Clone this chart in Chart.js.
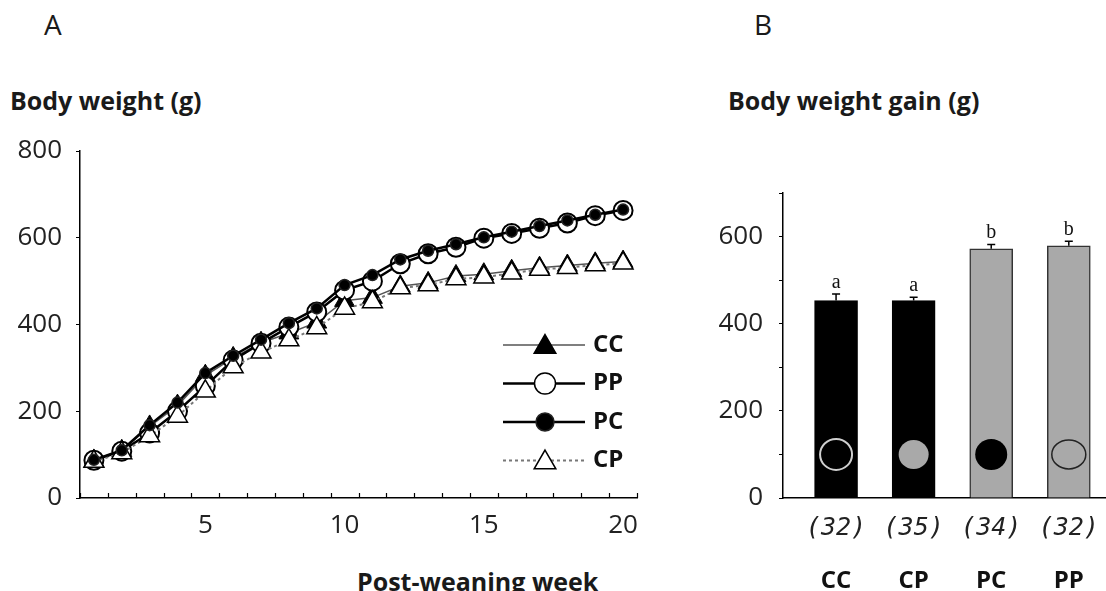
<!DOCTYPE html>
<html>
<head>
<meta charset="utf-8">
<script src="https://cdn.jsdelivr.net/npm/chart.js@4.4.1/dist/chart.umd.min.js"></script>
<style>
html,body{margin:0;padding:0;background:#fff;}
body{width:1106px;height:591px;overflow:hidden;position:relative;font-family:'Open Sans',sans-serif;color:#1a1a1a;}
.t{position:absolute;white-space:nowrap;line-height:1;}
canvas{position:absolute;top:0;}
</style>
</head>
<body>
<div class="t" style="left:44px;top:10px;font-size:28px;">A</div>
<div class="t" style="left:754px;top:10px;font-size:28px;">B</div>
<div class="t" style="left:10px;top:88px;font-size:25px;font-weight:700;">Body weight (g)</div>
<div class="t" style="left:728px;top:88px;font-size:25px;font-weight:700;">Body weight gain (g)</div>
<div class="t" style="left:357px;top:569px;font-size:25px;font-weight:700;">Post-weaning week</div>
<canvas id="c1" width="700" height="591" style="left:0"></canvas>
<canvas id="c2" width="430" height="591" style="left:690px"></canvas>
<script>
// ---- Panel A data ----
const weeks = ['1','2','3','4','5','6','7','8','9','10','11','12','13','14','15','16','17','18','19','20'];
const weekTickLabels = ['5','10','15','20'];
const ccWeight = [86,109,165,213,282,323,358,380,405,455,462,488,496,512,516,524,531,536,541,545];
const ppWeight = [87,108,150,200,258,318,357,394,429,479,500,540,563,578,599,610,622,634,651,663];
const pcWeight = [88,110,168,220,288,328,365,403,437,491,514,550,570,585,601,614,627,640,653,665];
const cpWeight = [84,104,143,188,246,302,336,364,392,437,452,484,491,505,509,518,527,531,537,541];
const legendOrder = ['CC','PP','PC','CP'];

// ---- Panel B data ----
const groups = ['CC','CP','PC','PP'];
const groupN = ['(32)','(35)','(34)','(32)'];
const gain = [453,453,572,579];
const gainErr = [15,8,10,10];
const sigLetters = ['a','a','b','b'];

function drawMarker(ctx, style, r, x, y, fill, stroke, lw){
  ctx.save();
  ctx.beginPath();
  if(style==='triangle'){
    let rad=0;
    ctx.moveTo(x+Math.sin(rad)*r, y-Math.cos(rad)*r);
    rad+=Math.PI*2/3;
    ctx.lineTo(x+Math.sin(rad)*r, y-Math.cos(rad)*r);
    rad+=Math.PI*2/3;
    ctx.lineTo(x+Math.sin(rad)*r, y-Math.cos(rad)*r);
    ctx.closePath();
  } else {
    ctx.arc(x,y,r,0,Math.PI*2);
  }
  ctx.fillStyle=fill; ctx.fill();
  ctx.lineWidth=lw; ctx.strokeStyle=stroke; ctx.stroke();
  ctx.restore();
}

const legendSizes = {CC:12.5, PP:10.5, PC:9, CP:12.5};
const insideLegend = {
  id:'insideLegend',
  afterDatasetsDraw(chart){
    const {ctx, chartArea} = chart;
    const x0 = chartArea.right-134, x1 = chartArea.right-52, xm = chartArea.right-92, xt = chartArea.right-44;
    legendOrder.forEach((name,k)=>{
      const ds = chart.data.datasets.find(d=>d.label===name);
      const y = chartArea.bottom-153+k*38.5;
      ctx.save();
      ctx.beginPath();
      ctx.strokeStyle=ds.borderColor; ctx.lineWidth=ds.borderWidth;
      ctx.setLineDash(ds.borderDash||[]);
      ctx.moveTo(x0,y); ctx.lineTo(x1,y); ctx.stroke();
      ctx.restore();
      drawMarker(ctx, ds.pointStyle, legendSizes[name], xm, y + (ds.pointStyle==='triangle'?2:0), ds.pointBackgroundColor, ds.pointBorderColor, 1.5);
      ctx.save();
      ctx.fillStyle='#111'; ctx.font='700 24px "Open Sans"';
      ctx.textBaseline='middle'; ctx.textAlign='left';
      ctx.fillText(name, xt, y);
      ctx.restore();
    });
  }
};

// tick marks on the category (week) axis pointing into the plot, at category boundaries
const innerTicks = {
  id:'innerTicks',
  afterDraw(chart){
    const {ctx} = chart;
    const xs = chart.scales.x;
    ctx.save();
    ctx.strokeStyle='#000'; ctx.lineWidth=1.2;
    ctx.beginPath();
    for(let i=0;i<=weeks.length;i++){
      const px = Math.round(xs.getPixelForValue(i-0.5))+0.5;
      ctx.moveTo(px, xs.top); ctx.lineTo(px, xs.top-5);
    }
    ctx.stroke();
    ctx.restore();
  }
};

new Chart(document.getElementById('c1'), {
  type:'line',
  data:{labels:weeks, datasets:[
    {label:'CC', data:ccWeight, borderColor:'#555', borderWidth:1.5, pointStyle:'triangle', pointRadius:11.5, pointBackgroundColor:'#000', pointBorderColor:'#000', pointBorderWidth:1, order:3},
    {label:'PP', data:ppWeight, borderColor:'#000', borderWidth:2.5, pointStyle:'circle', pointRadius:9.5, pointBackgroundColor:'#fff', pointBorderColor:'#000', pointBorderWidth:2, order:2},
    {label:'PC', data:pcWeight, borderColor:'#000', borderWidth:2.5, pointStyle:'circle', pointRadius:5.5, pointBackgroundColor:'#000', pointBorderColor:'#222', pointBorderWidth:1.5, order:0},
    {label:'CP', data:cpWeight, borderColor:'#777', borderWidth:2, borderDash:[3,3], pointStyle:'triangle', pointRadius:11.5, pointBackgroundColor:'#fff', pointBorderColor:'#000', pointBorderWidth:1.5, order:1}
  ]},
  options:{
    responsive:false, animation:false, events:[],
    layout:{padding:{top:151,right:63,left:0,bottom:0}},
    plugins:{legend:{display:false}, tooltip:{enabled:false}},
    scales:{
      x:{type:'category', offset:true,
         grid:{offset:true, drawOnChartArea:false, drawTicks:false, color:'#000'},
         border:{color:'#000', width:1.5},
         ticks:{autoSkip:false, maxRotation:0, padding:12, color:'#222', font:{family:'Open Sans', size:26},
                callback:(v,i)=> weekTickLabels.includes(weeks[i]) ? weeks[i] : ''},
         afterFit:s=>{s.height=93;}},
      y:{min:0, max:800,
         ticks:{stepSize:200, padding:14, color:'#222', font:{family:'Open Sans', size:26}},
         grid:{drawOnChartArea:false, color:'#000', tickLength:4},
         border:{color:'#000', width:1.5},
         afterFit:s=>{s.width=80;}}
    }
  },
  plugins:[insideLegend, innerTicks]
});

const barDecor = {
  id:'barDecor',
  afterDatasetsDraw(chart){
    const {ctx} = chart;
    const ys = chart.scales.y;
    const meta = chart.getDatasetMeta(0);
    const markerLevel = 100;
    const icons = [
      {fill:null, stroke:'#cfcfcf', lw:2, rx:16, ry:15.5},
      {fill:'#a9a9a9', stroke:null, lw:0, rx:15, ry:14.5},
      {fill:'#000', stroke:null, lw:0, rx:16, ry:15.5},
      {fill:null, stroke:'#222', lw:1.5, rx:17, ry:14.5}
    ];
    meta.data.forEach((bar,i)=>{
      const top = ys.getPixelForValue(gain[i]+gainErr[i]);
      ctx.save();
      ctx.strokeStyle='#000'; ctx.lineWidth=1.5;
      ctx.beginPath();
      ctx.moveTo(bar.x, bar.y); ctx.lineTo(bar.x, top);
      ctx.moveTo(bar.x-4, top); ctx.lineTo(bar.x+4, top);
      ctx.stroke();
      ctx.fillStyle='#111'; ctx.font='20px "Liberation Serif"';
      ctx.textAlign='center'; ctx.textBaseline='alphabetic';
      ctx.fillText(sigLetters[i], bar.x, top-6);
      const ic = icons[i];
      const cy = ys.getPixelForValue(markerLevel);
      ctx.beginPath();
      ctx.ellipse(bar.x, cy, ic.rx, ic.ry, 0, 0, Math.PI*2);
      if(ic.fill){ctx.fillStyle=ic.fill; ctx.fill();}
      if(ic.stroke){ctx.strokeStyle=ic.stroke; ctx.lineWidth=ic.lw; ctx.stroke();}
      ctx.restore();
    });
  }
};

const xMin = 0.316, xMax = 4.66;
new Chart(document.getElementById('c2'), {
  type:'bar',
  data:{datasets:[{
    data: gain.map((v,i)=>({x:i+1, y:v})),
    backgroundColor:['#000','#000','#a9a9a9','#a9a9a9'],
    borderColor:['#000','#000','#333','#333'],
    borderWidth:1.5, barThickness:43, borderSkipped:'bottom'
  }]},
  options:{
    responsive:false, animation:false, events:[],
    layout:{padding:{top:193,right:0,left:0,bottom:0}},
    plugins:{legend:{display:false}, tooltip:{enabled:false}},
    scales:{
      x:{type:'linear', position:'bottom', min:xMin, max:xMax, weight:0, offset:false,
         afterBuildTicks:s=>{s.ticks = groups.map((g,i)=>({value:i+1}));},
         grid:{display:false, offset:false}, border:{color:'#000', width:1.5},
         ticks:{padding:7, color:'#222', font:{family:'DejaVu Sans Mono', style:'italic', size:25},
                callback:(v,i)=> groupN[i]},
         afterFit:s=>{s.height=50;}},
      x2:{type:'linear', position:'bottom', min:xMin, max:xMax, weight:1, offset:false,
         afterBuildTicks:s=>{s.ticks = groups.map((g,i)=>({value:i+1}));},
         grid:{display:false, offset:false}, border:{display:false},
         ticks:{padding:11, color:'#111', font:{family:'Open Sans', size:24, weight:'bold'},
                callback:(v,i)=> groups[i]},
         afterFit:s=>{s.height=43;}},
      y:{min:0, max:700,
         ticks:{stepSize:100, padding:16, color:'#222', font:{family:'Open Sans', size:26},
                callback:v=> (v%200===0 ? v : '')},
         grid:{drawOnChartArea:false, color:'#000', tickLength:4},
         border:{color:'#000', width:1.5},
         afterFit:s=>{s.width=93;}}
    }
  },
  plugins:[barDecor]
});
</script>
</body>
</html>
